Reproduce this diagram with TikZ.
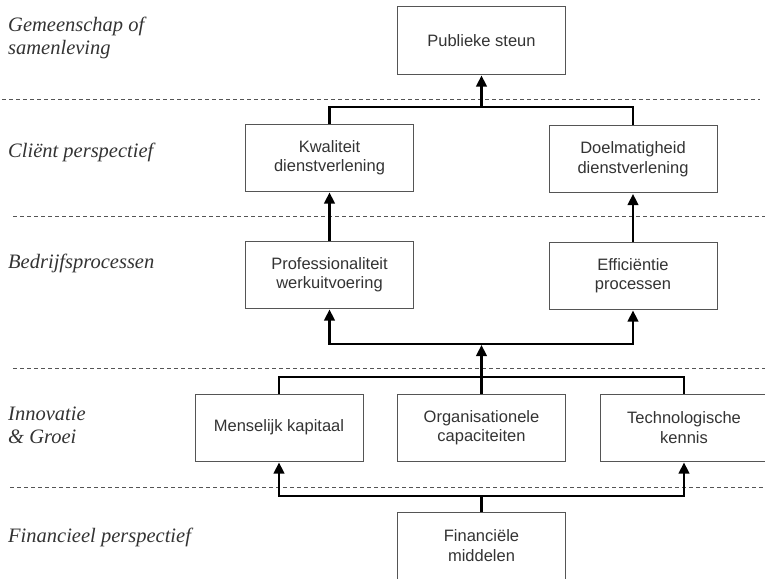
\documentclass[tikz,border=0pt]{standalone}
\usepackage{fontspec}
\setmainfont{Liberation Serif}
\setsansfont{Liberation Sans}
\usetikzlibrary{arrows.meta}

\definecolor{inkgray}{HTML}{333333}
\definecolor{rulegray}{HTML}{555555}

\tikzset{
  perspbox/.style={draw=rulegray, line width=1pt, minimum width=168pt,
    minimum height=67pt, inner sep=0pt, align=center, text=inkgray,
    font=\sffamily\fontsize{16.5}{19.5}\selectfont},
  layername/.style={anchor=base west, inner sep=0pt, align=left, text=inkgray,
    font=\itshape\fontsize{20.5}{23}\selectfont},
  layersep/.style={draw=rulegray, line width=0.8pt, dash pattern=on 4pt off 3pt},
  link/.style={line width=2.4pt, black},
  uplink/.style={link, -{Triangle[length=11pt,width=10.5pt]}, shorten >=1pt}
}

\begin{document}
\begin{tikzpicture}[x=1pt,y=-1pt]
  \clip (0,0) rectangle (765,578);
  \useasboundingbox (0,0) rectangle (765,578);

  % lagen links
  \node[layername] (gem) at (8,55) {Gemeenschap of\\samenleving};
  \node[layername] (cli) at (8,157) {Cliënt perspectief};
  \node[layername] (bed) at (8,268) {Bedrijfsprocessen};
  \node[layername] (inn) at (8,443) {Innovatie\\\& Groei};
  \node[layername] (fnc) at (8,542) {Financieel perspectief};

  % scheidingslijnen
  \draw[layersep] (2,99) -- (760,99);
  \draw[layersep] (13,216) -- (765,216);
  \draw[layersep] (13,368) -- (765,368);
  \draw[layersep] (10,487) -- (765,487);

  % doelen
  \node[perspbox] (pub) at (481.5,40.5) {Publieke steun};
  \node[perspbox] (kwal) at (329.5,157.5) {Kwaliteit\\dienstverlening};
  \node[perspbox] (doel) at (633,159) {Doelmatigheid\\dienstverlening};
  \node[perspbox] (prof) at (329.5,274.5) {Professionaliteit\\werkuitvoering};
  \node[perspbox] (eff) at (633,275.5) {Efficiëntie\\processen};
  \node[perspbox] (mens) at (279,427.5) {Menselijk kapitaal};
  \node[perspbox] (org) at (481.5,427.5) {Organisationele\\capaciteiten};
  \node[perspbox] (tech) at (684,427.5) {Technologische\\kennis};
  \node[perspbox] (fin) at (481.5,545.5) {Financiële\\middelen};

  % knooppunten
  \coordinate (j1) at (481.5,107);
  \coordinate (j2) at (481.5,344);
  \coordinate (j3) at (481.5,377);
  \coordinate (j4) at (481.5,496);

  % verbindingen
  \draw[link] (kwal.north) |- (j1) -| (doel.north);
  \draw[uplink] (j1) -- (pub.south);
  \draw[uplink] (prof.north) -- (kwal.south);
  \draw[uplink] (eff.north) -- (doel.south);
  \draw[uplink] (j2) -| (prof.south);
  \draw[uplink] (j2) -| (eff.south);
  \draw[link] (mens.north) |- (j3) -| (tech.north);
  \draw[uplink] (org.north) -- (j2);
  \draw[link] (fin.north) -- (j4);
  \draw[uplink] (j4) -| (mens.south);
  \draw[uplink] (j4) -| (tech.south);
\end{tikzpicture}
\end{document}
